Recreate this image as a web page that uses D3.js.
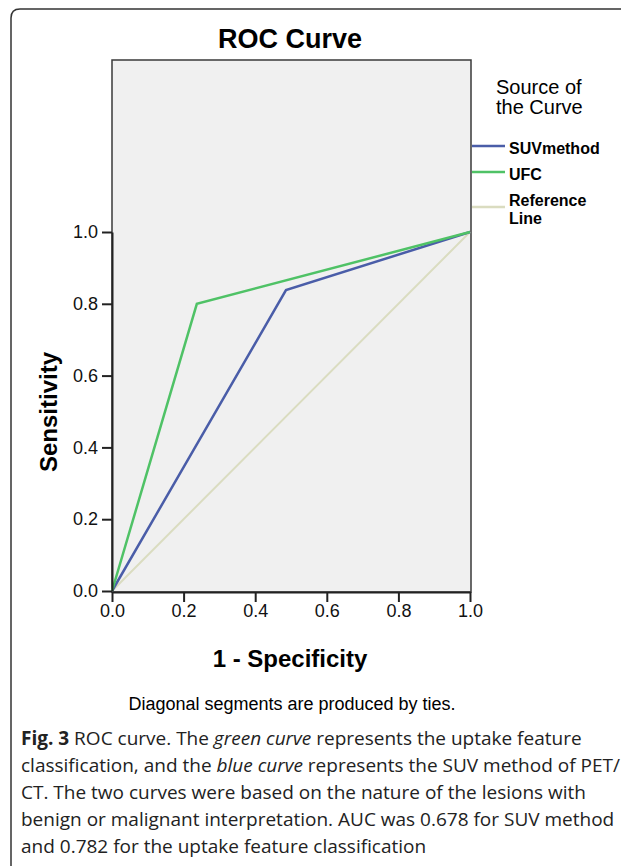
<!DOCTYPE html>
<html>
<head>
<meta charset="utf-8">
<script src="https://cdn.jsdelivr.net/npm/d3@7"></script>
<style>
  body { margin: 0; background: #fff; }
  svg { display: block; }
</style>
</head>
<body>
<div id="chart"></div>
<script>
// ROC data
const seriesNames = ["SUVmethod", "UFC", "Reference Line"];
const suvFpr = [0, 0.486, 1];
const suvTpr = [0, 0.838, 1];
const ufcFpr = [0, 0.237, 1];
const ufcTpr = [0, 0.80, 1];
const refFpr = [0, 1];
const refTpr = [0, 1];
const tickValues = [0, 0.2, 0.4, 0.6, 0.8, 1.0];

const colors = {
    "SUVmethod": "#4a5da8",
    "UFC": "#4fc266",
    "Reference Line": "#dadcc0"
};

const width = 621, height = 866;
const svg = d3.select("#chart").append("svg")
    .attr("width", width)
    .attr("height", height);

// rounded frame, open to the right and bottom
svg.append("path")
    .attr("d", "M11,870 V18 Q11,9 20,9 H625")
    .attr("fill", "none")
    .attr("stroke", "#333")
    .attr("stroke-width", 1.5);

// scales
const x = d3.scaleLinear().domain([0, 1]).range([112, 470]);
const y = d3.scaleLinear().domain([0, 1]).range([591, 232]);

// plot box (extends above 1.0 like the SPSS output)
const boxTop = 60, boxBottom = 592;
svg.append("rect")
    .attr("x", x(0))
    .attr("y", boxTop)
    .attr("width", x(1) - x(0) + 1)
    .attr("height", boxBottom - boxTop)
    .attr("fill", "#f0f0f0")
    .attr("stroke", "#3a3a3a")
    .attr("stroke-width", 1.5);

// title
svg.append("text")
    .attr("x", 290).attr("y", 48)
    .attr("text-anchor", "middle")
    .style("font", "bold 27px 'Liberation Sans', Arial, sans-serif")
    .text("ROC Curve");

// curves
const line = d3.line().x(d => x(d[0])).y(d => y(d[1]));
const series = [
    { name: "Reference Line", pts: d3.zip(refFpr, refTpr), w: 2 },
    { name: "SUVmethod", pts: d3.zip(suvFpr, suvTpr), w: 2.5 },
    { name: "UFC", pts: d3.zip(ufcFpr, ufcTpr), w: 2.5 }
];
svg.selectAll("path.curve")
    .data(series)
    .join("path")
    .attr("class", "curve")
    .attr("d", d => line(d.pts))
    .attr("fill", "none")
    .attr("stroke", d => colors[d.name])
    .attr("stroke-width", d => d.w);

// axes
const fmt = d3.format(".1f");
const yAxis = svg.append("g")
    .attr("transform", `translate(${x(0)},0)`)
    .call(d3.axisLeft(y).tickValues(tickValues).tickFormat(fmt).tickSize(10).tickSizeOuter(0));
const xAxis = svg.append("g")
    .attr("transform", `translate(0,${y(0) + 1})`)
    .call(d3.axisBottom(x).tickValues(tickValues).tickFormat(fmt).tickSize(10).tickSizeOuter(0));

[yAxis, xAxis].forEach(g => {
    g.select(".domain").attr("stroke", "#222").attr("stroke-width", 2);
    g.selectAll(".tick line").attr("stroke", "#222").attr("stroke-width", 2);
    g.selectAll("text")
        .style("font", "18px 'Liberation Sans', Arial, sans-serif")
        .attr("fill", "#111");
});
yAxis.selectAll("text").attr("x", -14);
xAxis.selectAll("text").attr("y", 12);

// axis titles
svg.append("text")
    .attr("x", 290).attr("y", 667)
    .attr("text-anchor", "middle")
    .style("font", "bold 24px 'Liberation Sans', Arial, sans-serif")
    .text("1 - Specificity");

svg.append("text")
    .attr("transform", "translate(57,412) rotate(-90)")
    .attr("text-anchor", "middle")
    .style("font", "bold 24px 'Liberation Sans', Arial, sans-serif")
    .text("Sensitivity");

// legend
const legend = svg.append("g").style("font-family", "'Liberation Sans', Arial, sans-serif");
legend.append("text").attr("x", 496).attr("y", 94).style("font-size", "20px").text("Source of");
legend.append("text").attr("x", 496).attr("y", 114).style("font-size", "20px").text("the Curve");

const legendRows = [
    { name: "SUVmethod", lineY: 146, labels: ["SUVmethod"], base: 154 },
    { name: "UFC", lineY: 172, labels: ["UFC"], base: 180 },
    { name: "Reference Line", lineY: 207, labels: ["Reference", "Line"], base: 206 }
];
legendRows.forEach(r => {
    legend.append("line")
        .attr("x1", 472).attr("x2", 505)
        .attr("y1", r.lineY).attr("y2", r.lineY)
        .attr("stroke", colors[r.name])
        .attr("stroke-width", 2.5);
    r.labels.forEach((t, i) => {
        legend.append("text")
            .attr("x", 509).attr("y", r.base + i * 18)
            .style("font-size", "16px").style("font-weight", "bold")
            .text(t);
    });
});

// footnote
svg.append("text")
    .attr("x", 292).attr("y", 710)
    .attr("text-anchor", "middle")
    .style("font", "18px 'Liberation Sans', Arial, sans-serif")
    .text("Diagonal segments are produced by ties.");

// figure caption
const captionLines = [
    [["b", "Fig. 3"], ["n", " ROC curve. The "], ["i", "green curve"], ["n", " represents the uptake feature"]],
    [["n", "classification, and the "], ["i", "blue curve"], ["n", " represents the SUV method of PET/"]],
    [["n", "CT. The two curves were based on the nature of the lesions with"]],
    [["n", "benign or malignant interpretation. AUC was 0.678 for SUV method"]],
    [["n", "and 0.782 for the uptake feature classification"]]
];
const cap = svg.append("g")
    .style("font-family", "'Open Sans', 'Noto Sans', sans-serif")
    .style("font-size", "19px")
    .attr("fill", "#222");
captionLines.forEach((parts, i) => {
    const t = cap.append("text").attr("x", 21).attr("y", 745 + i * 27);
    parts.forEach(([k, s]) => {
        const ts = t.append("tspan").text(s);
        if (k === "b") ts.style("font-weight", "bold");
        if (k === "i") ts.style("font-style", "italic");
    });
});
</script>
</body>
</html>
